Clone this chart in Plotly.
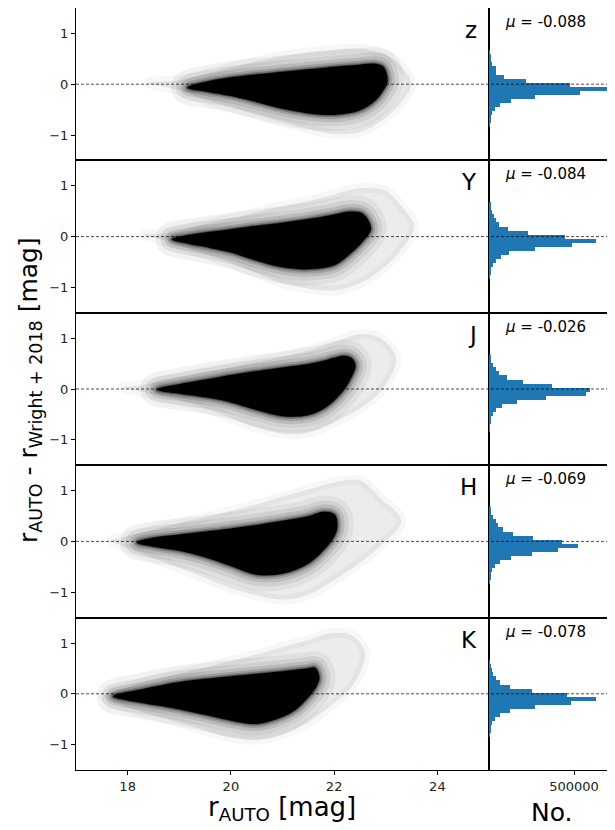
import plotly.graph_objects as go

# ---------------- data ----------------
bands = ["z", "Y", "J", "H", "K"]
mu_labels = ["-0.088", "-0.084", "-0.026", "-0.069", "-0.078"]

# dense core envelopes (r_AUTO, upper / lower offset)
z_core_x = [19.17, 19.5, 20.0, 20.5, 21.0, 21.5, 22.0, 22.5, 22.8, 22.95, 23.02]
z_core_hi = [-0.065, 0.03, 0.12, 0.18, 0.23, 0.28, 0.33, 0.37, 0.39, 0.33, 0.05]
z_core_lo = [-0.065, -0.13, -0.22, -0.34, -0.47, -0.56, -0.59, -0.5, -0.3, -0.1, 0.05]
z_halo_x = [18.4, 19.0, 19.5, 20.0, 20.5, 21.0, 21.5, 22.0, 22.5, 23.0, 23.3, 23.5]
z_halo_hi = [0.03, 0.08, 0.2, 0.33, 0.45, 0.55, 0.63, 0.68, 0.7, 0.58, 0.35, 0.0]
z_halo_lo = [0.03, -0.12, -0.3, -0.45, -0.6, -0.75, -0.88, -0.98, -0.94, -0.66, -0.35, 0.0]

Y_core_x = [18.87, 19.2, 19.6, 20.0, 20.5, 21.0, 21.5, 22.0, 22.3, 22.55, 22.7]
Y_core_hi = [-0.05, 0.02, 0.08, 0.13, 0.2, 0.26, 0.33, 0.42, 0.48, 0.44, 0.15]
Y_core_lo = [-0.05, -0.13, -0.21, -0.3, -0.46, -0.59, -0.63, -0.55, -0.33, -0.08, 0.15]
Y_halo_x = [18.3, 18.8, 19.3, 20.0, 20.5, 21.0, 21.5, 22.0, 22.5, 23.0, 23.3, 23.55]
Y_halo_hi = [0.04, 0.07, 0.2, 0.36, 0.48, 0.6, 0.7, 0.83, 0.95, 0.9, 0.6, 0.2]
Y_halo_lo = [0.04, -0.1, -0.28, -0.52, -0.72, -0.92, -1.02, -1.06, -0.92, -0.58, -0.25, 0.2]

J_core_x = [18.58, 19.0, 19.5, 20.0, 20.5, 21.0, 21.5, 21.8, 22.0, 22.2, 22.33, 22.4]
J_core_hi = [-0.01, 0.08, 0.17, 0.26, 0.34, 0.41, 0.48, 0.54, 0.6, 0.64, 0.6, 0.45]
J_core_lo = [-0.01, -0.08, -0.15, -0.25, -0.4, -0.52, -0.5, -0.37, -0.21, 0.02, 0.25, 0.45]
J_halo_x = [17.9, 18.3, 19.0, 19.5, 20.0, 20.5, 21.0, 21.5, 22.0, 22.5, 22.9, 23.2]
J_halo_hi = [0.03, 0.08, 0.23, 0.33, 0.43, 0.53, 0.63, 0.76, 0.92, 1.08, 1.0, 0.6]
J_halo_lo = [0.03, -0.06, -0.22, -0.38, -0.57, -0.76, -0.88, -0.86, -0.66, -0.38, -0.05, 0.6]

H_core_x = [18.19, 18.5, 19.0, 19.5, 20.0, 20.5, 21.0, 21.5, 21.8, 22.0, 22.05]
H_core_hi = [-0.02, 0.06, 0.12, 0.18, 0.24, 0.31, 0.39, 0.48, 0.57, 0.52, 0.3]
H_core_lo = [-0.02, -0.09, -0.17, -0.3, -0.47, -0.64, -0.62, -0.42, -0.15, 0.12, 0.3]
H_halo_x = [17.7, 18.0, 18.5, 19.0, 19.5, 20.0, 20.5, 21.0, 21.5, 22.0, 22.5, 22.9, 23.3]
H_halo_hi = [0.02, 0.1, 0.23, 0.36, 0.48, 0.6, 0.73, 0.88, 1.02, 1.16, 1.2, 0.85, 0.4]
H_halo_lo = [0.02, -0.13, -0.33, -0.52, -0.72, -0.92, -1.06, -1.15, -1.05, -0.76, -0.42, -0.08, 0.4]

K_core_x = [17.73, 18.2, 18.94, 19.5, 20.08, 20.5, 21.0, 21.25, 21.5, 21.63, 21.7]
K_core_hi = [-0.05, 0.06, 0.21, 0.28, 0.34, 0.38, 0.43, 0.46, 0.49, 0.5, 0.3]
K_core_lo = [-0.05, -0.15, -0.28, -0.4, -0.53, -0.58, -0.44, -0.3, -0.05, 0.12, 0.3]
K_halo_x = [17.55, 18.0, 18.5, 19.0, 19.5, 20.0, 20.5, 21.0, 21.5, 22.0, 22.35, 22.6]
K_halo_hi = [-0.05, 0.13, 0.28, 0.4, 0.52, 0.65, 0.77, 0.92, 1.06, 1.2, 1.15, 0.8]
K_halo_lo = [-0.05, -0.27, -0.42, -0.57, -0.72, -0.86, -0.9, -0.8, -0.56, -0.18, 0.15, 0.8]

# histogram of offsets (bin centres, width 0.08), counts in thousands
hist_centers = [0.63, 0.55, 0.47, 0.39, 0.31, 0.23, 0.15, 0.07, -0.01, -0.09,
                -0.17, -0.25, -0.33, -0.41, -0.49, -0.57, -0.65, -0.73, -0.81]
hist_bin_width = 0.08
z_hist_k = [3, 6, 10, 19, 44, 41, 88, 218, 476, 694, 535, 271, 129, 65, 35, 18, 10, 6, 3]
Y_hist_k = [6, 9, 15, 29, 41, 59, 110, 228, 447, 629, 488, 271, 118, 71, 41, 21, 12, 6, 3]
J_hist_k = [6, 12, 24, 41, 59, 106, 200, 371, 594, 571, 335, 165, 76, 41, 21, 12, 6, 3, 2]
H_hist_k = [6, 12, 24, 41, 53, 82, 141, 259, 429, 524, 406, 253, 129, 65, 35, 18, 12, 6, 3]
K_hist_k = [4, 9, 15, 24, 41, 65, 124, 253, 459, 629, 482, 271, 124, 65, 35, 18, 9, 6, 3]

x_ticks = [18, 20, 22, 24]
y_ticks = [-1, 0, 1]
hist_ticks = [500000]
hist_tick_labels = ["500000"]
x_range = [17, 25]
y_range = [-1.5, 1.5]
hist_range = [0, 741000]

cores = [(z_core_x, z_core_hi, z_core_lo), (Y_core_x, Y_core_hi, Y_core_lo),
         (J_core_x, J_core_hi, J_core_lo), (H_core_x, H_core_hi, H_core_lo),
         (K_core_x, K_core_hi, K_core_lo)]
halos = [(z_halo_x, z_halo_hi, z_halo_lo), (Y_halo_x, Y_halo_hi, Y_halo_lo),
         (J_halo_x, J_halo_hi, J_halo_lo), (H_halo_x, H_halo_hi, H_halo_lo),
         (K_halo_x, K_halo_hi, K_halo_lo)]
hists = [z_hist_k, Y_hist_k, J_hist_k, H_hist_k, K_hist_k]

# ---------------- layout geometry ----------------
OFF = 8                      # page body margin of the html page
W, H = 615 - OFF, 830 - OFF
left_px, split_px = 76 - OFF, 489 - OFF
top_px, bottom_px = 8 - OFF, 770 - OFF
row_h = (bottom_px - top_px) / 5
FONT = "DejaVu Sans"


def px_x(p):
    return (p - OFF) / W


def px_y(p):
    return 1 - (p - OFF) / H


def ring(x, hi, lo):
    return list(x) + list(x[-2::-1]), list(hi) + list(lo[-2::-1])


fig = go.Figure()
layout = dict(width=W, height=H, margin=dict(l=0, r=0, t=0, b=0),
              paper_bgcolor="white", plot_bgcolor="white", showlegend=False,
              font=dict(family=FONT, color="black"))
shapes, annotations = [], []

for i in range(5):
    sx = 2 * i + 1
    hx = 2 * i + 2
    xa = "x" if sx == 1 else f"x{sx}"
    ya = "y" if sx == 1 else f"y{sx}"
    hxa, hya = f"x{hx}", f"y{hx}"
    top = top_px + i * row_h
    bot = top + row_h
    ydom = [1 - bot / H, 1 - top / H]
    last = i == 4

    # sparse outskirts
    hxp, hyp = ring(*halos[i])
    fig.add_trace(go.Scatter(x=hxp, y=hyp, xaxis=xa, yaxis=ya, mode="lines",
                             fill="toself", fillcolor="rgba(0,0,0,0.075)",
                             line=dict(color="rgba(0,0,0,0.03)", width=10, shape="spline"),
                             hoverinfo="skip"))
    # soft edge of the dense core
    cxp, cyp = ring(*cores[i])
    for wdt, alpha in [(34, 0.05), (24, 0.07), (16, 0.1), (10, 0.15), (6, 0.24), (3, 0.4)]:
        fig.add_trace(go.Scatter(x=cxp, y=cyp, xaxis=xa, yaxis=ya, mode="lines",
                                 line=dict(color=f"rgba(0,0,0,{alpha})", width=wdt, shape="spline"),
                                 hoverinfo="skip"))
    fig.add_trace(go.Scatter(x=cxp, y=cyp, xaxis=xa, yaxis=ya, mode="lines",
                             fill="toself", fillcolor="black",
                             line=dict(color="black", width=1.5, shape="spline"),
                             hoverinfo="skip"))

    # histogram
    fig.add_trace(go.Bar(y=hist_centers, x=[v * 1000 for v in hists[i]], orientation="h",
                         width=hist_bin_width, marker=dict(color="#1f77b4", line=dict(width=0)),
                         xaxis=hxa, yaxis=hya, hoverinfo="skip"))

    tickfont = dict(size=13, family=FONT, color="#222")
    layout["xaxis" if sx == 1 else f"xaxis{sx}"] = dict(
        domain=[left_px / W, split_px / W], range=x_range, anchor=ya,
        showgrid=False, zeroline=False, showline=True, mirror=True,
        linecolor="black", linewidth=1,
        tickvals=x_ticks, ticks="outside" if last else "",
        ticklen=4, tickcolor="black", showticklabels=last, tickfont=tickfont)
    layout["yaxis" if sx == 1 else f"yaxis{sx}"] = dict(
        domain=ydom, range=y_range, anchor=xa,
        showgrid=False, zeroline=False, showline=True, mirror=True,
        linecolor="black", linewidth=1, tickvals=y_ticks, ticks="outside",
        ticklen=4, tickcolor="black", tickfont=tickfont)
    layout[f"xaxis{hx}"] = dict(
        domain=[split_px / W, 1.0], range=hist_range, anchor=hya,
        showgrid=False, zeroline=False, showline=True, mirror=True,
        linecolor="black", linewidth=1,
        tickvals=hist_ticks, ticktext=hist_tick_labels, ticks="outside" if last else "",
        ticklen=4, tickcolor="black", showticklabels=last, tickfont=tickfont)
    layout[f"yaxis{hx}"] = dict(
        domain=ydom, range=y_range, anchor=hxa,
        showgrid=False, zeroline=False, showline=True, mirror=False,
        linecolor="black", linewidth=1, showticklabels=False, ticks="")

    # zero reference line across scatter and histogram
    shapes.append(dict(type="line", xref="paper", yref=ya, x0=left_px / W, x1=1.0,
                       y0=0, y1=0, line=dict(color="black", width=0.7, dash="3px,2px"),
                       layer="above"))

    top_ref = 8 + i * (770 - 8) / 5
    annotations.append(dict(text=bands[i], xref="paper", yref="paper",
                            x=px_x(479), y=px_y(top_ref + 22), xanchor="right",
                            yanchor="middle", showarrow=False,
                            font=dict(size=23, family=FONT, color="black")))
    annotations.append(dict(text=f"<i>μ</i> = {mu_labels[i]}", xref="paper", yref="paper",
                            x=px_x(545), y=px_y(top_ref + 14), xanchor="center",
                            yanchor="middle", showarrow=False,
                            font=dict(size=15, family=FONT, color="black")))

annotations.append(dict(text="r<sub>AUTO</sub> - r<sub>Wright + 2018</sub> [mag]",
                        xref="paper", yref="paper", x=px_x(30), y=px_y(390),
                        xanchor="center", yanchor="middle", textangle=-90, showarrow=False,
                        font=dict(size=25, family=FONT, color="black")))
annotations.append(dict(text="r<sub>AUTO</sub> [mag]", xref="paper", yref="paper",
                        x=px_x(282), y=px_y(808), xanchor="center", yanchor="middle",
                        showarrow=False, font=dict(size=26, family=FONT, color="black")))
annotations.append(dict(text="No.", xref="paper", yref="paper", x=px_x(552), y=px_y(812),
                        xanchor="center", yanchor="middle", showarrow=False,
                        font=dict(size=25, family=FONT, color="black")))

layout["shapes"] = shapes
layout["annotations"] = annotations
layout["bargap"] = 0
fig.update_layout(**layout)
fig.write_html("out.html")
